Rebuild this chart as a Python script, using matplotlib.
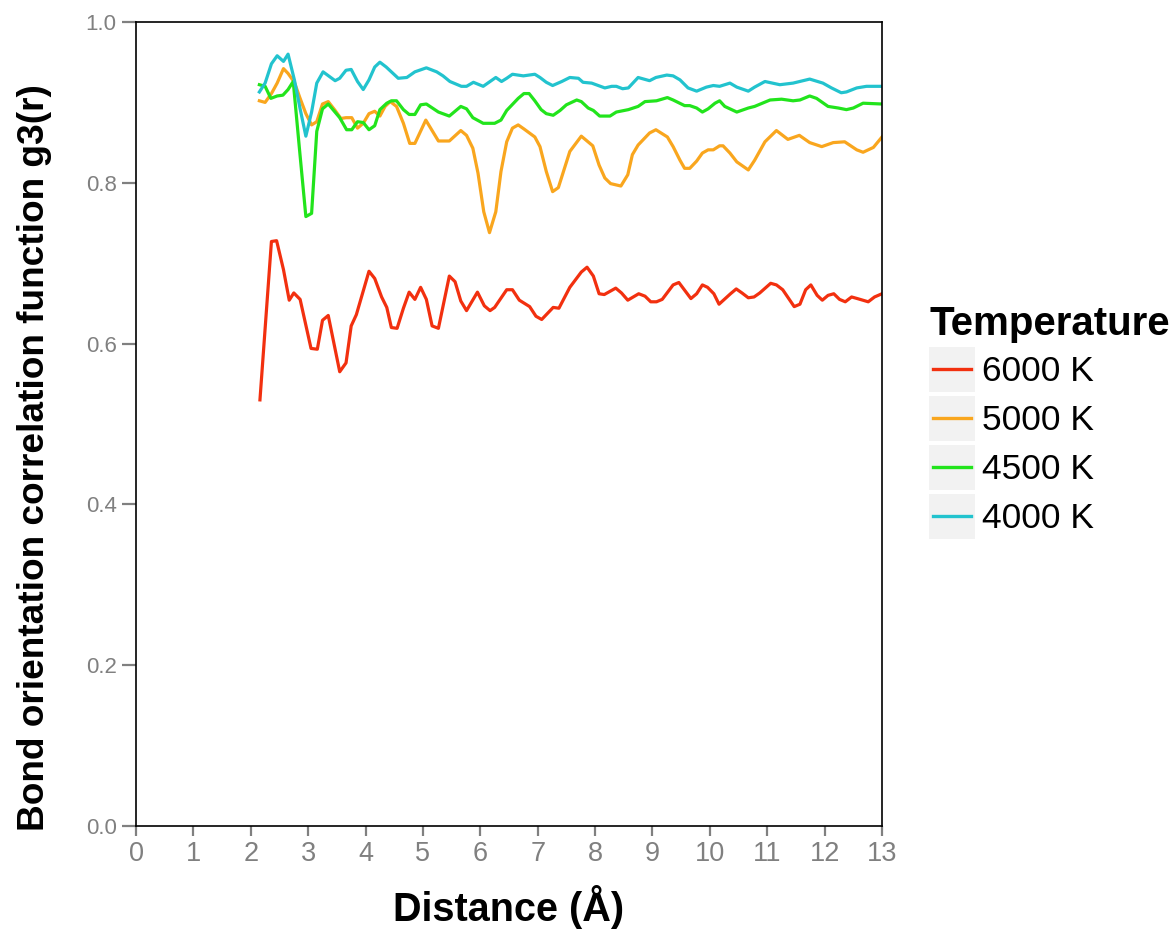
import matplotlib
matplotlib.use("Agg")
import matplotlib.pyplot as plt
from matplotlib.legend_handler import HandlerBase
from matplotlib.patches import Rectangle
from matplotlib.lines import Line2D

plt.rcParams['font.family'] = ['Liberation Sans', 'DejaVu Sans']

# values
r6000 = [2.16, 2.36, 2.45, 2.57, 2.67, 2.75, 2.86, 3.05, 3.16, 3.25, 3.35, 3.55, 3.66, 3.75, 3.84,
         4.06, 4.16, 4.28, 4.37, 4.45, 4.55, 4.66, 4.76, 4.86, 4.96, 5.06, 5.16, 5.27, 5.46, 5.56,
         5.66, 5.76, 5.95, 6.07, 6.17, 6.25, 6.46, 6.56, 6.68, 6.86, 6.97, 7.07, 7.27, 7.37, 7.56,
         7.76, 7.86, 7.97, 8.07, 8.16, 8.36, 8.46, 8.57, 8.76, 8.87, 8.97, 9.07, 9.17, 9.36, 9.46,
         9.67, 9.77, 9.87, 9.96, 10.07, 10.16, 10.36, 10.46, 10.56, 10.67, 10.77, 10.87, 11.06,
         11.16, 11.27, 11.47, 11.57, 11.67, 11.76, 11.87, 11.96, 12.06, 12.16, 12.26, 12.36, 12.47,
         12.57, 12.76, 12.87, 13.00]
g6000 = [0.530, 0.727, 0.728, 0.692, 0.654, 0.663, 0.655, 0.594, 0.593, 0.629, 0.635, 0.565, 0.576,
         0.622, 0.636, 0.690, 0.681, 0.658, 0.645, 0.620, 0.619, 0.644, 0.664, 0.655, 0.670, 0.655,
         0.622, 0.619, 0.684, 0.677, 0.653, 0.641, 0.664, 0.647, 0.641, 0.645, 0.667, 0.667, 0.654,
         0.646, 0.634, 0.630, 0.645, 0.644, 0.670, 0.689, 0.695, 0.684, 0.662, 0.661, 0.669, 0.663,
         0.654, 0.662, 0.659, 0.652, 0.652, 0.655, 0.673, 0.676, 0.656, 0.662, 0.673, 0.670, 0.662,
         0.649, 0.662, 0.668, 0.663, 0.657, 0.658, 0.663, 0.675, 0.673, 0.667, 0.646, 0.649, 0.667,
         0.673, 0.660, 0.654, 0.660, 0.662, 0.655, 0.652, 0.658, 0.656, 0.652, 0.658, 0.662]

r5000 = [2.15, 2.25, 2.36, 2.46, 2.57, 2.65, 2.76, 2.86, 2.96, 3.06, 3.15, 3.25, 3.35, 3.47, 3.57,
         3.66, 3.76, 3.86, 3.96, 4.06, 4.16, 4.25, 4.34, 4.43, 4.54, 4.66, 4.77, 4.86, 5.05, 5.27,
         5.46, 5.66, 5.76, 5.87, 5.96, 6.06, 6.16, 6.27, 6.36, 6.46, 6.56, 6.66, 6.76, 6.95, 7.04,
         7.15, 7.26, 7.36, 7.56, 7.76, 7.96, 8.07, 8.17, 8.27, 8.45, 8.57, 8.65, 8.75, 8.95, 9.06,
         9.26, 9.36, 9.48, 9.56, 9.65, 9.77, 9.87, 9.97, 10.06, 10.17, 10.23, 10.35, 10.47, 10.67,
         10.78, 10.96, 11.16, 11.36, 11.56, 11.74, 11.95, 12.15, 12.35, 12.56, 12.67, 12.85, 13.00]
g5000 = [0.902, 0.900, 0.911, 0.924, 0.942, 0.936, 0.925, 0.905, 0.886, 0.872, 0.876, 0.898, 0.901,
         0.890, 0.880, 0.881, 0.881, 0.868, 0.874, 0.886, 0.889, 0.883, 0.895, 0.901, 0.895, 0.874,
         0.849, 0.849, 0.878, 0.852, 0.852, 0.865, 0.859, 0.843, 0.812, 0.764, 0.738, 0.764, 0.814,
         0.851, 0.868, 0.872, 0.867, 0.857, 0.845, 0.814, 0.789, 0.794, 0.839, 0.858, 0.846, 0.822,
         0.806, 0.799, 0.796, 0.810, 0.835, 0.847, 0.862, 0.866, 0.857, 0.845, 0.828, 0.818, 0.818,
         0.827, 0.837, 0.841, 0.841, 0.846, 0.846, 0.837, 0.826, 0.816, 0.828, 0.851, 0.865, 0.854,
         0.859, 0.850, 0.845, 0.850, 0.851, 0.841, 0.838, 0.844, 0.857]

r4500 = [2.15, 2.25, 2.35, 2.46, 2.56, 2.65, 2.74, 2.85, 2.96, 3.06, 3.15, 3.25, 3.35, 3.55, 3.67,
         3.76, 3.86, 3.96, 4.06, 4.16, 4.25, 4.37, 4.45, 4.54, 4.66, 4.76, 4.86, 4.96, 5.06, 5.27,
         5.46, 5.66, 5.76, 5.87, 6.05, 6.25, 6.36, 6.46, 6.66, 6.76, 6.85, 6.95, 7.06, 7.15, 7.27,
         7.39, 7.50, 7.68, 7.76, 7.88, 7.97, 8.08, 8.26, 8.37, 8.58, 8.75, 8.87, 9.07, 9.26, 9.36,
         9.56, 9.65, 9.77, 9.87, 9.97, 10.09, 10.17, 10.26, 10.47, 10.67, 10.78, 11.05, 11.25, 11.45,
         11.57, 11.74, 11.86, 12.06, 12.24, 12.38, 12.50, 12.67, 13.00]
g4500 = [0.922, 0.920, 0.905, 0.908, 0.909, 0.916, 0.926, 0.841, 0.758, 0.762, 0.864, 0.892, 0.898,
         0.881, 0.866, 0.866, 0.876, 0.875, 0.866, 0.871, 0.891, 0.899, 0.902, 0.902, 0.891, 0.885,
         0.885, 0.897, 0.898, 0.888, 0.883, 0.895, 0.892, 0.881, 0.874, 0.874, 0.878, 0.890, 0.905,
         0.911, 0.911, 0.902, 0.891, 0.886, 0.884, 0.890, 0.897, 0.903, 0.901, 0.893, 0.890, 0.883,
         0.883, 0.888, 0.891, 0.895, 0.901, 0.902, 0.906, 0.903, 0.896, 0.896, 0.893, 0.888, 0.892,
         0.899, 0.902, 0.895, 0.888, 0.893, 0.895, 0.903, 0.904, 0.902, 0.903, 0.908, 0.905, 0.895,
         0.893, 0.891, 0.893, 0.899, 0.898]

r4000 = [2.15, 2.25, 2.36, 2.46, 2.57, 2.65, 2.76, 2.86, 2.96, 3.06, 3.15, 3.26, 3.47, 3.55, 3.66,
         3.75, 3.86, 3.96, 4.06, 4.16, 4.25, 4.36, 4.57, 4.72, 4.86, 5.06, 5.24, 5.35, 5.47, 5.67,
         5.76, 5.88, 6.05, 6.17, 6.27, 6.37, 6.46, 6.56, 6.75, 6.95, 7.04, 7.15, 7.26, 7.42, 7.56,
         7.71, 7.79, 7.94, 8.17, 8.29, 8.37, 8.48, 8.58, 8.75, 8.95, 9.06, 9.25, 9.36, 9.48, 9.62,
         9.77, 9.94, 10.06, 10.17, 10.35, 10.47, 10.67, 10.78, 10.96, 11.22, 11.45, 11.74, 11.97,
         12.12, 12.29, 12.38, 12.56, 12.73, 13.00]
g4000 = [0.913, 0.924, 0.948, 0.958, 0.951, 0.960, 0.928, 0.892, 0.858, 0.888, 0.924, 0.938, 0.927,
         0.930, 0.940, 0.941, 0.926, 0.916, 0.928, 0.944, 0.950, 0.944, 0.930, 0.931, 0.938, 0.943,
         0.938, 0.933, 0.926, 0.920, 0.920, 0.925, 0.920, 0.926, 0.931, 0.926, 0.930, 0.935, 0.933,
         0.935, 0.931, 0.925, 0.921, 0.926, 0.931, 0.930, 0.925, 0.924, 0.918, 0.920, 0.920, 0.917,
         0.918, 0.931, 0.927, 0.931, 0.934, 0.933, 0.928, 0.918, 0.914, 0.919, 0.921, 0.920, 0.924,
         0.919, 0.914, 0.919, 0.926, 0.922, 0.924, 0.929, 0.924, 0.918, 0.912, 0.913, 0.918, 0.920,
         0.920]

labels = ["6000 K", "5000 K", "4500 K", "4000 K"]
colors = ["#F2300F", "#F9A61E", "#22E41C", "#22C3CE"]
series = [(r6000, g6000), (r5000, g5000), (r4500, g4500), (r4000, g4000)]


class BoxLine(HandlerBase):
    # grey key box with a short coloured line, ggplot style
    def create_artists(self, legend, orig_handle, xdescent, ydescent, width, height, fontsize, trans):
        box = Rectangle((-xdescent, -ydescent), width, height,
                        facecolor="#F2F2F2", edgecolor="none", transform=trans)
        y = -ydescent + 0.5 * height
        ln = Line2D([-xdescent + 0.08 * width, -xdescent + 0.92 * width], [y, y],
                    color=orig_handle.get_color(), lw=2.4, transform=trans)
        return [box, ln]


fig = plt.figure(figsize=(11.76, 9.32), dpi=100)
ax = fig.add_axes([136 / 1176, 1 - 826 / 932, 746 / 1176, 804 / 932])

handles = []
for (x, y), c, lab in zip(series, colors, labels):
    h, = ax.plot(x, y, color=c, lw=2.3, label=lab)
    handles.append(h)

ax.set_xlim(0, 13)
ax.set_ylim(0, 1)
ax.set_xticks(range(0, 14))
ax.set_yticks([0.0, 0.2, 0.4, 0.6, 0.8, 1.0])
ax.set_yticklabels(["0.0", "0.2", "0.4", "0.6", "0.8", "1.0"])
ax.tick_params(axis='x', colors="#808080", labelsize=19.5, length=7, width=1.6, pad=4)
ax.tick_params(axis='y', colors="#808080", labelsize=16, length=10, width=1.6, pad=4)
for s in ax.spines.values():
    s.set_color("black")
    s.set_linewidth(1.2)

ax.set_xlabel("Distance (Å)", fontsize=28.5, fontweight='bold')
ax.set_ylabel("Bond orientation correlation function g3(r)", fontsize=27, fontweight='bold')
ax.xaxis.set_label_coords(0.5, -0.074)
ax.yaxis.set_label_coords(-0.112, 0.458)

# squeeze the y title to the length it has in the picture (~747 px)
fig.canvas.draw()
bb = ax.yaxis.label.get_window_extent()
ax.yaxis.label.set_fontsize(27 * 747 / bb.height)

leg = fig.legend(handles=handles, labels=labels, loc='upper left',
                 bbox_to_anchor=(929 / 1176, 1 - 305 / 932), frameon=False,
                 title="Temperature", title_fontproperties={'weight': 'bold', 'size': 29},
                 fontsize=25.5, handler_map={Line2D: BoxLine()}, handlelength=1.3,
                 handleheight=1.6, labelspacing=0.1, handletextpad=0.2,
                 borderpad=0, borderaxespad=0, alignment='left')

fig.savefig("out.png", dpi=100)
